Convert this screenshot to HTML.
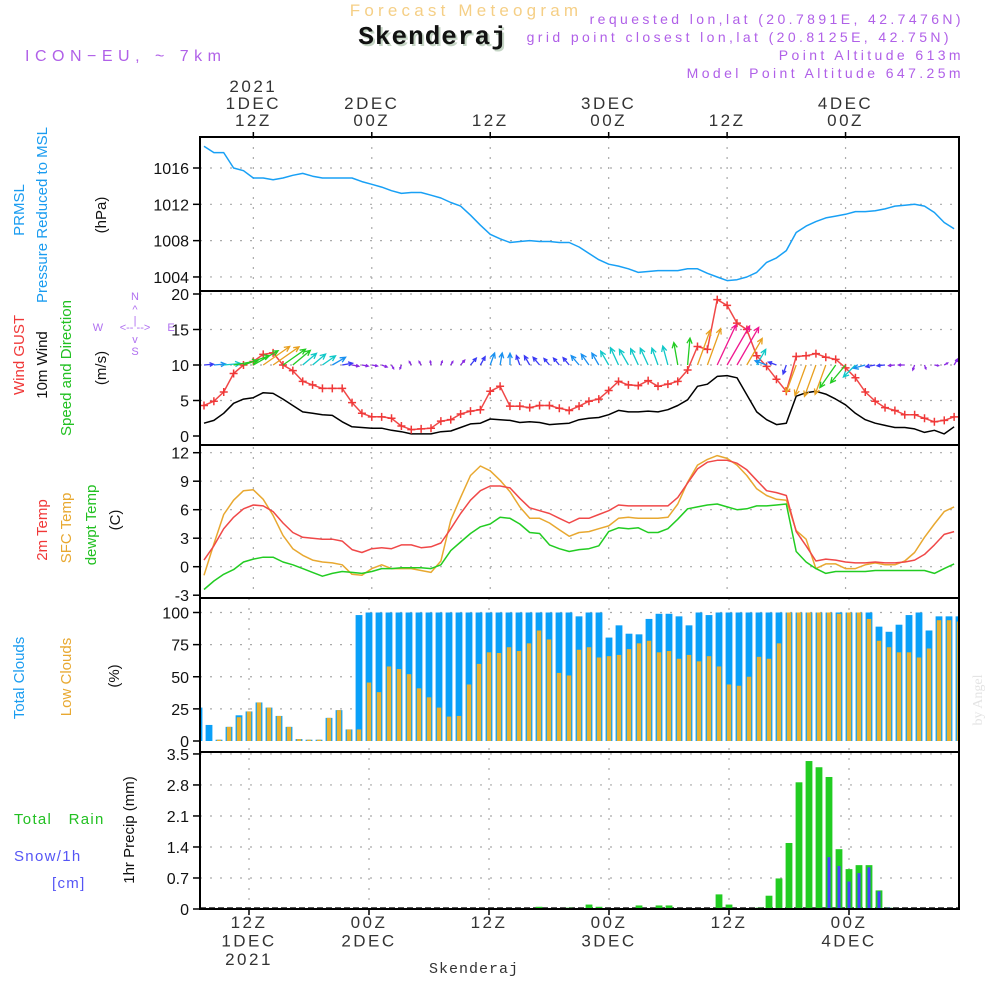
<!DOCTYPE html>
<html><head><meta charset="utf-8"><title>Meteogram Skenderaj</title>
<style>
html,body{margin:0;padding:0;background:#fff;}
svg{display:block;font-family:"Liberation Sans",sans-serif;}
</style></head>
<body>
<svg id="chart" width="1000" height="1000" viewBox="0 0 1000 1000" xmlns="http://www.w3.org/2000/svg">
<rect width="1000" height="1000" fill="#fff"/>
<text x="466" y="16" text-anchor="middle" font-size="17" fill="#f5cf86" letter-spacing="4.2">Forecast Meteogram</text>
<text x="435" y="46" text-anchor="middle" font-size="26" font-weight="bold" font-family="Liberation Mono, monospace" fill="#c5d5c5" letter-spacing="1">Skenderaj</text>
<text x="433" y="44" text-anchor="middle" font-size="26" font-weight="bold" font-family="Liberation Mono, monospace" fill="#111" letter-spacing="1">Skenderaj</text>
<text x="25" y="61" font-size="16" fill="#b060e8" letter-spacing="5.5">ICON−EU, ~ 7km</text>
<g font-size="14" fill="#b060e8" text-anchor="end" letter-spacing="3.4">
<text x="964" y="24">requested lon,lat (20.7891E, 42.7476N)</text>
<text x="952" y="42">grid point closest lon,lat (20.8125E, 42.75N)</text>
<text x="964" y="60">Point Altitude 613m</text>
<text x="964" y="78">Model Point Altitude 647.25m</text>
</g>
<g id="grid"></g>
<g id="marks"></g>
<g id="frames" fill="none" stroke="#000" stroke-width="2">
<rect x="200" y="137" width="759" height="772"/>
<line x1="200" y1="291" x2="959" y2="291"/>
<line x1="200" y1="445" x2="959" y2="445"/>
<line x1="200" y1="598" x2="959" y2="598"/>
<line x1="200" y1="752" x2="959" y2="752"/>
</g>
<g id="axes" font-size="16" fill="#111"></g>
<g font-size="15">
<text transform="translate(24,210) rotate(-90)" text-anchor="middle" fill="#1a9cf0">PRMSL</text>
<text transform="translate(47,215) rotate(-90)" text-anchor="middle" fill="#1a9cf0">Pressure Reduced to MSL</text>
<text transform="translate(106,215) rotate(-90)" text-anchor="middle" fill="#111">(hPa)</text>
<text transform="translate(24,355) rotate(-90)" text-anchor="middle" fill="#f03838">Wind GUST</text>
<text transform="translate(47,365) rotate(-90)" text-anchor="middle" fill="#111">10m Wind</text>
<text transform="translate(71,368) rotate(-90)" text-anchor="middle" fill="#22c022">Speed and Direction</text>
<text transform="translate(106,368) rotate(-90)" text-anchor="middle" fill="#111">(m/s)</text>
<text transform="translate(47,530) rotate(-90)" text-anchor="middle" fill="#f03838">2m Temp</text>
<text transform="translate(71,528) rotate(-90)" text-anchor="middle" fill="#e8a830">SFC Temp</text>
<text transform="translate(96,525) rotate(-90)" text-anchor="middle" fill="#22c022">dewpt Temp</text>
<text transform="translate(120,520) rotate(-90)" text-anchor="middle" fill="#111">(C)</text>
<text transform="translate(24,678) rotate(-90)" text-anchor="middle" fill="#1a9cf0">Total Clouds</text>
<text transform="translate(71,677) rotate(-90)" text-anchor="middle" fill="#e8a830">Low Clouds</text>
<text transform="translate(119,676) rotate(-90)" text-anchor="middle" fill="#111">(%)</text>
<text transform="translate(134,830) rotate(-90)" text-anchor="middle" fill="#111">1hr Precip (mm)</text>
<text x="14" y="824" fill="#22c022" letter-spacing="1.3">Total&#160;&#160;&#160;Rain</text>
<text x="14" y="861" fill="#5555f5" letter-spacing="1.3">Snow/1h</text>
<text x="52" y="888" fill="#5555f5" letter-spacing="1.3">[cm]</text>
</g>
<g fill="#b070f0" font-size="11" text-anchor="middle">
<text x="135" y="300">N</text><text x="135" y="313">^</text><text x="135" y="324">|</text>
<text x="98" y="331">W</text><text x="135" y="331">&lt;-- --&gt;</text><text x="171" y="331">E</text>
<text x="135" y="343">v</text><text x="135" y="355">S</text>
</g>
<text transform="translate(982,700) rotate(-90)" text-anchor="middle" font-size="14" font-family="Liberation Serif, serif" fill="#e4e4e4">by Angel</text>
<text x="474" y="973" text-anchor="middle" font-size="15" font-family="Liberation Mono, monospace" fill="#333" letter-spacing="1">Skenderaj</text>
</svg>
<script>
const hours = Array.from({length:77},(_,i)=>7+i);
const pressure = [1018.4,1017.7,1017.7,1016.0,1015.7,1014.9,1014.9,1014.7,1014.9,1015.2,
1015.4,1015.1,1014.9,1014.9,1014.9,1014.9,1014.5,1014.2,1013.9,1013.5,
1013.2,1013.3,1013.3,1013.0,1012.7,1012.2,1011.8,1010.8,1009.7,1008.7,
1008.2,1007.8,1007.9,1008.0,1007.9,1007.9,1007.8,1007.8,1007.3,1006.6,
1005.9,1005.4,1005.2,1004.9,1004.5,1004.6,1004.7,1004.7,1004.7,1004.9,
1004.9,1004.4,1004.0,1003.6,1003.7,1004.0,1004.5,1005.6,1006.1,1006.9,
1008.9,1009.6,1010.1,1010.5,1010.7,1010.9,1011.2,1011.2,1011.3,1011.5,
1011.8,1011.9,1012.0,1011.8,1011.1,1010.0,1009.3];
const gust = [4.3,4.9,6.2,8.8,10.0,10.5,11.5,11.7,10.0,9.2,
7.7,7.2,6.7,6.7,6.7,4.7,3.2,2.7,2.7,2.5,
1.4,0.9,1.0,1.1,2.1,2.3,3.1,3.5,3.7,6.3,
7.0,4.2,4.2,4.0,4.3,4.3,3.9,3.6,4.2,4.9,
5.2,6.4,7.7,7.2,7.1,7.8,7.0,7.3,7.7,9.3,
12.6,12.2,19.2,18.4,15.9,15.0,11.3,9.8,8.0,6.3,
11.2,11.3,11.6,11.1,10.8,9.6,8.2,6.2,4.9,4.0,
3.6,3.0,3.0,2.5,2.0,2.2,2.7];
const wind = [1.8,2.2,3.2,4.6,5.2,5.4,6.1,6.0,5.2,4.3,
3.4,3.2,3.0,2.9,2.0,1.3,1.2,1.1,1.1,0.8,
0.6,0.3,0.3,0.3,0.6,0.7,1.2,1.7,1.8,2.4,
2.3,2.2,1.9,2.0,1.9,1.6,1.7,1.8,2.3,2.5,
2.6,3.0,3.6,3.4,3.4,3.5,3.4,3.7,4.3,5.1,
7.0,7.3,8.4,8.5,8.2,5.8,3.4,2.3,1.6,1.8,
5.6,6.1,6.3,5.9,5.2,4.4,3.2,2.3,1.8,1.5,
1.2,1.2,1.0,0.5,0.8,0.3,1.3];
const windDirTo = [85,85,85,80,70,60,55,55,55,50,
50,50,55,60,80,100,100,100,110,150,
200,330,330,350,20,30,40,40,30,20,
10,0,340,330,320,320,320,320,320,325,
330,330,335,330,335,335,340,345,350,5,
20,20,25,30,30,30,30,290,290,200,
200,200,200,200,215,220,225,255,260,265,
265,270,200,160,100,60,30];
const temp2m = [0.7,2.2,4.0,5.2,6.1,6.5,6.4,5.8,4.6,3.6,
3.1,3.0,2.9,2.9,2.7,1.8,1.5,1.9,2.0,1.9,
2.3,2.3,2.0,2.1,2.5,4.0,5.6,7.0,8.0,8.5,
8.5,8.3,7.2,6.2,5.9,5.6,5.1,4.6,5.1,5.1,
5.5,5.9,6.5,6.4,6.4,6.4,6.4,6.4,7.3,8.8,
10.3,11.0,11.2,11.2,10.9,10.2,9.1,8.0,7.8,7.5,
3.7,2.2,0.6,0.8,0.7,0.5,0.4,0.4,0.5,0.4,
0.4,0.5,0.7,1.3,2.3,3.4,3.7];
const tempSfc = [-0.9,2.4,5.5,7.0,8.0,8.1,7.1,5.4,3.3,1.9,
1.2,0.7,0.5,0.4,0.2,-0.8,-0.9,-0.2,0.2,-0.2,
-0.2,-0.2,-0.4,-0.6,0.6,4.9,7.3,9.6,10.6,10.1,
9.1,7.9,6.3,5.1,5.1,4.6,3.9,3.2,3.6,3.7,
4.0,4.3,5.1,5.2,5.1,5.1,5.1,5.2,6.6,8.9,
10.7,11.3,11.7,11.4,10.7,9.6,8.2,7.5,7.1,7.0,
3.8,2.9,-0.2,0.3,0.3,-0.2,-0.2,0.2,0.4,0.2,
0.2,0.6,1.5,3.1,4.5,5.8,6.3];
const tempDew = [-2.4,-1.5,-0.8,-0.3,0.5,0.8,1.0,1.0,0.5,0.2,
-0.2,-0.6,-1.0,-0.7,-0.5,-0.6,-0.7,-0.5,-0.2,-0.2,
-0.1,-0.1,-0.1,-0.2,0.2,1.7,2.6,3.5,4.2,4.5,
5.2,5.1,4.5,3.6,3.5,2.3,1.9,1.6,1.8,1.9,
2.2,3.7,4.1,4.0,4.1,3.6,3.6,4.0,5.0,6.1,
6.3,6.5,6.6,6.3,6.0,6.1,6.4,6.4,6.5,6.6,
1.6,0.5,-0.2,-0.7,-0.5,-0.5,-0.5,-0.5,-0.4,-0.4,
-0.4,-0.4,-0.4,-0.4,-0.7,-0.2,0.3];
const totalClouds = [26,12.5,1,11,20,23,30,26,19.5,11,
1.5,1,1,18,24,9,98,100,100,100,
100,100,100,100,100,100,100,100,100,100,
100,100,100,100,100,100,100,100,97,100,
100,80.5,90,83.5,83,95,99,99,97,90,
100,98,100,100,100,100,100,100,100,100,
100,100,100,100,100,100,100,100,89,85,
90.5,98,100,86,97,97,97];
const lowClouds = [0,0,1,11,18.5,23,30,26,19.5,11,
1.5,1,1,18,24,9,9,45.5,38,58,
56,52,41,34,26,19,19.5,44,60,69,
68.5,73,70,76,86,79,53,51,71,73,
65,66,67,71.5,76,78,69,70,64,67,
62,66,58,44,43,50,65.5,64,76,100,
100,100,100,100,99,100,100,95,78,73,
69,69,65,72,94,94,93];
const rain = [0,0,0,0,0,0,0,0,0,0,
0,0,0,0,0,0,0,0,0,0,
0,0,0,0,0,0,0,0,0,0,
0,0,0,0,0.05,0.02,0,0.03,0,0.1,
0.05,0,0,0,0.08,0,0.08,0.08,0,0,
0,0,0.33,0.1,0,0,0.03,0.3,0.69,1.49,
2.86,3.34,3.2,2.98,1.35,0.9,0.99,0.99,0.42,0.03,
0,0,0,0,0,0,0];
const snow = [0,0,0,0,0,0,0,0,0,0,
0,0,0,0,0,0,0,0,0,0,
0,0,0,0,0,0,0,0,0,0,
0,0,0,0,0,0,0,0,0,0,
0,0,0,0,0,0,0,0,0,0,
0,0,0,0,0,0,0,0,0,0,
0,0,0.01,1.17,0.97,0.62,0.81,0.94,0.40,0.03,
0,0,0,0,0,0,0];
const pressureTicks = [1004,1008,1012,1016];
const windTicks = [0,5,10,15,20];
const tempTicks = [-3,0,3,6,9,12];
const cloudTicks = [0,25,50,75,100];
const precipTicks = [0,0.7,1.4,2.1,2.8,3.5];
const precipTickLabels = ["0","0.7","1.4","2.1","2.8","3.5"];
const timeTickHours = [12,24,36,48,60,72];
const topTickLines = [["2021","1DEC","12Z"],["2DEC","00Z"],["12Z"],["3DEC","00Z"],["12Z"],["4DEC","00Z"]];
const bottomTickLines = [["12Z","1DEC","2021"],["00Z","2DEC"],["12Z"],["00Z","3DEC"],["12Z"],["00Z","4DEC"]];

const xL = h => 204 + (h-7)*9.87;
const xB = h => 199 + (h-7)*10.0;
const yP = p => 168 + (1016-p)*9.08;
const yW = v => 436 - v*7.1;
const yT = t => 566.7 - t*9.5;
const yC = c => 741 - c*1.285;
const yR = r => 909 - r*44.3;

const NS='http://www.w3.org/2000/svg';
function mk(tag, attrs, parent){const e=document.createElementNS(NS,tag);for(const k in attrs)e.setAttribute(k,attrs[k]);parent.appendChild(e);return e;}
const grid=document.getElementById('grid'), marks=document.getElementById('marks'), axes=document.getElementById('axes');

function hgrid(vals, yf, name){
  vals.forEach(v=>{const l=mk('line',{x1:200,x2:959,y1:yf(v),y2:yf(v),stroke:'#aaa','stroke-width':1.2,'stroke-dasharray':'2 8'},grid);
  
  });
}
function ylabels(vals, yf, name, labels){
  vals.forEach((v,i)=>{const t=mk('text',{x:189,y:yf(v)+6,'text-anchor':'end'},axes);t.textContent=labels?labels[i]:String(v);
  
  
  const tk=mk('line',{x1:193,x2:200,y1:yf(v),y2:yf(v),stroke:'#000','stroke-width':1.5},axes);
  
  });
}
hgrid(pressureTicks,yP,'pressure');hgrid(windTicks.slice(1),yW,'wind');hgrid(tempTicks.slice(1),yT,'temp');
hgrid(cloudTicks.slice(1),yC,'cloud');hgrid(precipTicks.slice(1),yR,'precip');
ylabels(pressureTicks,yP,'pressure');ylabels(windTicks,yW,'wind');ylabels(tempTicks,yT,'temp');
ylabels(cloudTicks,yC,'cloud');ylabels(precipTicks,yR,'precip',precipTickLabels);

timeTickHours.forEach(h=>{
  [[137,598,xL(h)],[598,909,xB(h)]].forEach(([a,b,x])=>{
    const l=mk('line',{x1:x,x2:x,y1:a,y2:b,stroke:'#aaa','stroke-width':1.2,'stroke-dasharray':'2 8'},grid);
    
    
  });
});
timeTickHours.forEach((h,i)=>{
  const x=xL(h);
  const lines=topTickLines[i];
  lines.forEach((s,j)=>{const t=mk('text',{x:x,y:126-(lines.length-1-j)*17,'text-anchor':'middle','font-size':17,fill:'#333','letter-spacing':2.5},axes);t.textContent=s;
    
    });
  const tk=mk('line',{x1:x,x2:x,y1:132,y2:137,stroke:'#000','stroke-width':1.5},axes);
  
  
  const xb=xB(h);
  bottomTickLines[i].forEach((s,j)=>{const t=mk('text',{x:xb,y:928+j*18.5,'text-anchor':'middle','font-size':17,fill:'#333','letter-spacing':2.5},axes);t.textContent=s;
    
    });
  const bt=mk('line',{x1:xb,x2:xb,y1:909,y2:915,stroke:'#000','stroke-width':1.5},axes);
  
  
});

function polyline(vals, yf, color, name){
  const pts=vals.map((v,i)=>xL(hours[i]).toFixed(1)+','+yf(v).toFixed(1)).join(' ');
  const p=mk('polyline',{points:pts,fill:'none',stroke:color,'stroke-width':1.5,'stroke-linejoin':'round'},marks);
  
  
}
totalClouds.forEach((v,i)=>{const x=xB(hours[i]);const x0=Math.max(200,x-3.4),x1=Math.min(959,x+3.4);
  const r=mk('rect',{x:x0,y:yC(v),width:Math.max(0,x1-x0),height:yC(0)-yC(v),fill:'#0aa0f8'},marks);
  
  });
lowClouds.forEach((v,i)=>{if(v<=0)return;const x=xB(hours[i]);const x0=Math.max(200,x-2.2),x1=Math.min(959,x+2.2);
  const r=mk('rect',{x:x0,y:yC(v),width:Math.max(0,x1-x0),height:yC(0)-yC(v),fill:'#e8b030'},marks);
  
  });
const base=mk('line',{x1:200,x2:959,y1:908,y2:908,stroke:'#222','stroke-width':1.5,'stroke-dasharray':'6 3'},marks);


rain.forEach((v,i)=>{if(v<=0)return;const x=xB(hours[i]);
  const r=mk('rect',{x:x-3.4,y:yR(v),width:6.8,height:yR(0)-yR(v),fill:'#22cc22'},marks);
  
  });
snow.forEach((v,i)=>{if(v<=0)return;const x=xB(hours[i]);
  const r=mk('rect',{x:x-1.5,y:yR(v),width:3,height:yR(0)-yR(v),fill:'#4444ff'},marks);
  
  });
polyline(pressure,yP,'#18a0f5','pressure-line');
polyline(tempSfc,yT,'#e8a830','sfc-temp-line');
polyline(temp2m,yT,'#f04848','temp-2m-line');
polyline(tempDew,yT,'#22cc22','dewpoint-line');
polyline(wind,yW,'#000','wind-speed-line');
polyline(gust,yW,'#f04848','gust-line');
gust.forEach((v,i)=>{const x=xL(hours[i]),y=yW(v);
  const p=mk('path',{d:`M${x-4},${y}H${x+4}M${x},${y-4}V${y+4}`,stroke:'#f03838','stroke-width':1.5},marks);
  
  });
function windColor(s){if(s<1.5)return '#8a2be2';if(s<2.2)return '#3a3af5';if(s<3)return '#1890f0';if(s<4)return '#10c8c8';if(s<5.5)return '#22cc22';if(s<8)return '#e8a020';return '#f01890';}
windDirTo.forEach((d,i)=>{const s=wind[i];const x=xL(hours[i]),y=yW(10);
  const L=Math.max(4,s*5.3);const a=d*Math.PI/180;
  const tx=x+L*Math.sin(a),ty=y-L*Math.cos(a);
  const hl=Math.min(6,L*0.45);
  const a1=a+Math.PI-0.45,a2=a+Math.PI+0.45;
  const dd=`M${x.toFixed(1)},${y.toFixed(1)}L${tx.toFixed(1)},${ty.toFixed(1)}M${(tx+hl*Math.sin(a1)).toFixed(1)},${(ty-hl*Math.cos(a1)).toFixed(1)}L${tx.toFixed(1)},${ty.toFixed(1)}L${(tx+hl*Math.sin(a2)).toFixed(1)},${(ty-hl*Math.cos(a2)).toFixed(1)}`;
  const p=mk('path',{d:dd,stroke:windColor(s),'stroke-width':1.3,fill:'none'},marks);
  
  });
</script>
</body></html>
